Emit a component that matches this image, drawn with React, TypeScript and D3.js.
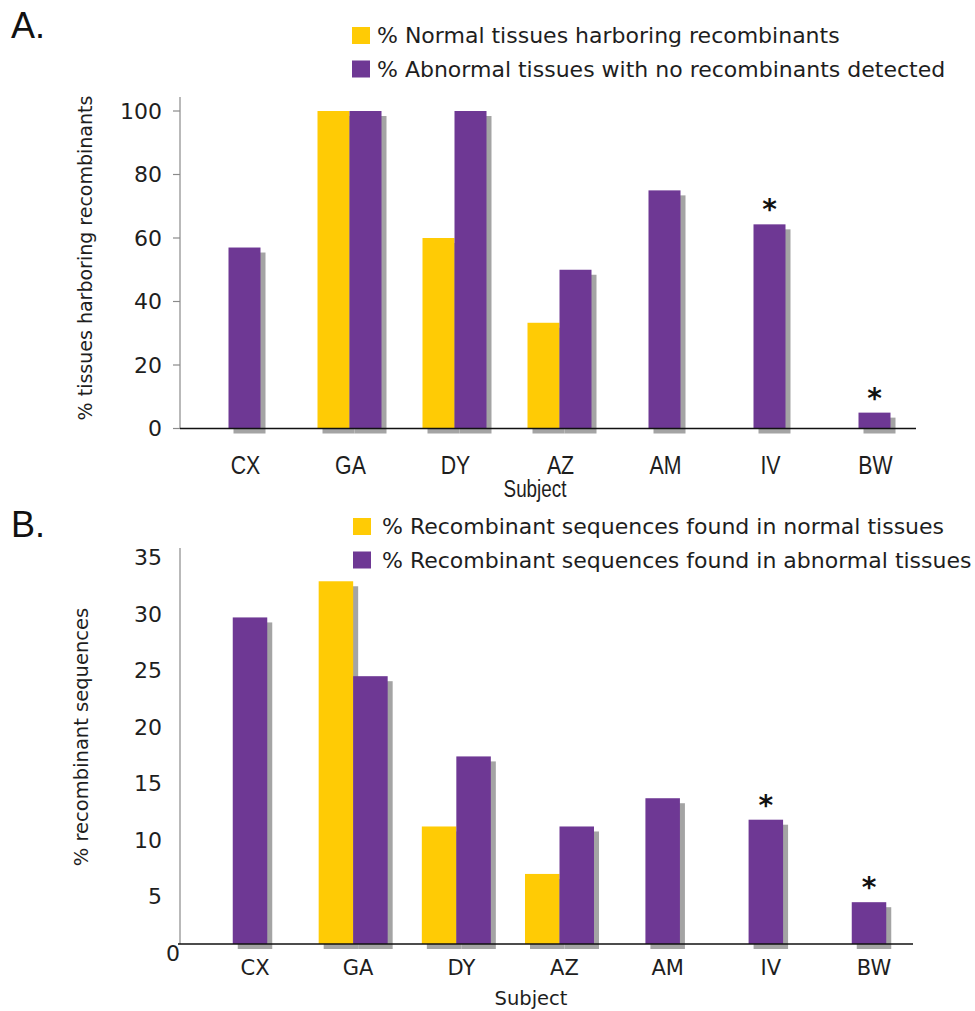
import React from "react";
import * as d3 from "d3";

// ---------- data ----------
const subjects = ["CX", "GA", "DY", "AZ", "AM", "IV", "BW"];
// Panel A
const normalHarboring = [0, 100, 60, 33.3, 0, 0, 0];
const abnormalNoRecomb = [57, 100, 100, 50, 75, 64.3, 5];
// Panel B
const normalSeq = [0, 32.1, 10.4, 6.2, 0, 0, 0];
const abnormalSeq = [28.9, 23.7, 16.6, 10.4, 12.9, 11.0, 3.7];
const starred = ["IV", "BW"];
const ticksA = [0, 20, 40, 60, 80, 100];
const ticksB = [5, 10, 15, 20, 25, 30, 35];
const legendA = [
  "% Normal tissues harboring recombinants",
  "% Abnormal tissues with no recombinants detected",
];
const legendB = [
  "% Recombinant sequences found in normal tissues",
  "% Recombinant sequences found in abnormal tissues",
];

const YELLOW = "#FFCB05";
const PURPLE = "#6E3894";
const SHADOW = "#a4a4a4";
const TXT = "#1e1e1e";
const SANS = "DejaVu Sans, Verdana, sans-serif";
const ARIAL = "Liberation Sans, Arial, sans-serif";

type BarsProps = {
  yellow: number[];
  purple: number[];
  x: d3.ScalePoint<string>;
  y: d3.ScaleLinear<number, number>;
  barW: number;
};

function Bars({ yellow, purple, x, y, barW }: BarsProps) {
  const base = y(0);
  const rects: { x0: number; v: number; fill: string; key: string }[] = [];
  subjects.forEach((s, i) => {
    const c = x(s) as number;
    const hasY = yellow[i] > 0;
    if (hasY) rects.push({ x0: c - barW, v: yellow[i], fill: YELLOW, key: s + "y" });
    rects.push({ x0: hasY ? c : c - barW / 2, v: purple[i], fill: PURPLE, key: s + "p" });
  });
  return (
    <g>
      {rects.map((r) => (
        <rect key={"sh" + r.key} x={r.x0 + 5} y={y(r.v) + 5} width={barW} height={base - y(r.v)} fill={SHADOW} />
      ))}
      {rects.map((r) => (
        <rect key={r.key} x={r.x0} y={y(r.v)} width={barW} height={base - y(r.v)} fill={r.fill} />
      ))}
      {subjects.map((s, i) =>
        starred.includes(s) ? (
          <text key={"st" + s} x={x(s) as number} y={y(purple[i]) - 5} textAnchor="middle" fontFamily={SANS} fontWeight="bold" fontSize={28} fill="#111">
            *
          </text>
        ) : null
      )}
    </g>
  );
}

function Legend({ labels, x, y0, textX }: { labels: string[]; x: number; y0: number; textX: number }) {
  return (
    <g>
      {labels.map((l, i) => (
        <g key={l}>
          <rect x={x} y={y0 + i * 33.5 - 16} width={18} height={17} fill={i === 0 ? YELLOW : PURPLE} />
          <text x={textX} y={y0 + i * 33.5} fontFamily={SANS} fontSize={22} fill={TXT}>
            {l}
          </text>
        </g>
      ))}
    </g>
  );
}

export default function App() {
  // Panel A scales
  const xA = d3.scalePoint<string>().domain(subjects).range([244.5, 874.5]);
  const yA = d3.scaleLinear().domain([0, 100]).range([428.5, 111]);
  // Panel B scales
  const xB = d3.scalePoint<string>().domain(subjects).range([250, 869]);
  const yB = d3.scaleLinear().domain([0, 35]).range([944, 548.5]);

  return (
    <svg width={975} height={1011} style={{ position: "absolute", left: 0, top: 0, background: "#fff" }}>
      <rect width={975} height={1011} fill="#fff" />
      {/* ---------- Panel A ---------- */}
      <text x={11} y={38} fontFamily={ARIAL} fontSize={36} fill="#111">A.</text>
      <Legend labels={legendA} x={352} y0={43} textX={377} />
      <line x1={180} x2={180} y1={97} y2={yA(0)} stroke="#8a8a8a" strokeWidth={1.2} />
      {ticksA.map((t) => (
        <g key={t}>
          <line x1={173} x2={180} y1={yA(t)} y2={yA(t)} stroke="#8a8a8a" strokeWidth={1.2} />
          <text x={162} y={yA(t)} dy="0.36em" textAnchor="end" fontFamily={SANS} fontSize={22} fill={TXT}>
            {t}
          </text>
        </g>
      ))}
      <text transform={`translate(92,258) rotate(-90)`} textAnchor="middle" fontFamily={SANS} fontSize={19} fill={TXT}>
        % tissues harboring recombinants
      </text>
      <Bars yellow={normalHarboring} purple={abnormalNoRecomb} x={xA} y={yA} barW={32} />
      <line x1={180} x2={916} y1={yA(0)} y2={yA(0)} stroke="#111" strokeWidth={1.6} />
      {subjects.map((s) => (
        <text key={"la" + s} transform={`translate(${(xA(s) as number) + 1},474) scale(0.82,1)`} textAnchor="middle" fontFamily={ARIAL} fontSize={26} fill={TXT}>
          {s}
        </text>
      ))}
      <text transform="translate(535,497) scale(0.82,1)" textAnchor="middle" fontFamily={ARIAL} fontSize={23} fill={TXT}>
        Subject
      </text>

      {/* ---------- Panel B ---------- */}
      <text x={11} y={537} fontFamily={ARIAL} fontSize={36} fill="#111">B.</text>
      <Legend labels={legendB} x={353} y0={534} textX={382} />
      <line x1={180} x2={180} y1={548} y2={yB(0)} stroke="#8a8a8a" strokeWidth={1.2} />
      {ticksB.map((t) => (
        <text key={t} x={162} y={yB(t) + 9} dy="0.36em" textAnchor="end" fontFamily={SANS} fontSize={22} fill={TXT}>
          {t}
        </text>
      ))}
      <text x={180} y={yB(0) + 9} dy="0.36em" textAnchor="end" fontFamily={SANS} fontSize={22} fill={TXT}>
        0
      </text>
      <text transform={`translate(88,737) rotate(-90)`} textAnchor="middle" fontFamily={SANS} fontSize={19.5} fill={TXT}>
        % recombinant sequences
      </text>
      <Bars yellow={normalSeq} purple={abnormalSeq} x={xB} y={yB} barW={34.5} />
      <line x1={178} x2={913} y1={yB(0)} y2={yB(0)} stroke="#111" strokeWidth={1.6} />
      {subjects.map((s) => (
        <text key={"lb" + s} x={(xB(s) as number) + 5} y={975} textAnchor="middle" fontFamily={SANS} fontSize={21} fill={TXT}>
          {s}
        </text>
      ))}
      <text x={531} y={1005} textAnchor="middle" fontFamily={SANS} fontSize={19.5} fill={TXT}>
        Subject
      </text>
    </svg>
  );
}
